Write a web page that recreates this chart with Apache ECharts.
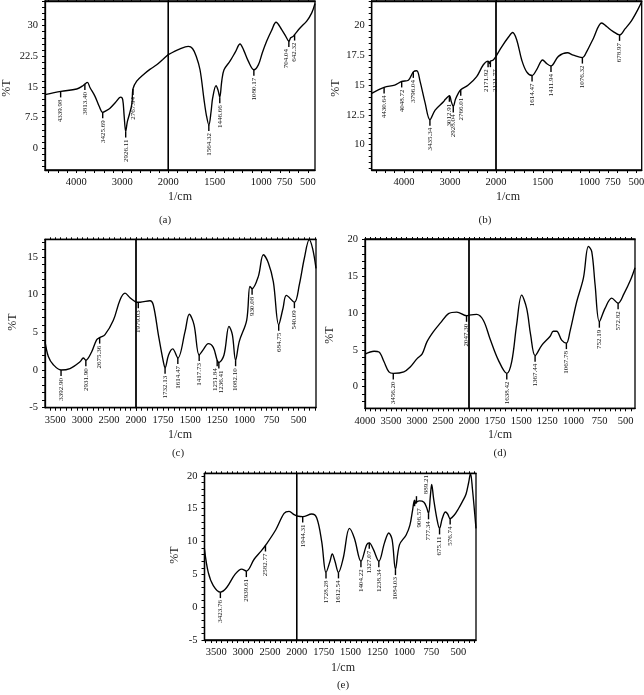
<!DOCTYPE html>
<html>
<head>
<meta charset="utf-8">
<script src="https://cdn.jsdelivr.net/npm/echarts@6/dist/echarts.min.js"></script>
<style>
  html, body { margin: 0; background: #fff; }
  #main { width: 644px; height: 695px; }
</style>
</head>
<body>
<div id="main"></div>
<script>
// ---- spectrum (a)
const waveA = [4680, 4333, 3991, 3870, 3813, 3760, 3700, 3593, 3500, 3426, 3350, 3267, 3150, 3035, 2991, 2960, 2926, 2890, 2848, 2790, 2768, 2687, 2543, 2400, 2252, 2120, 2000, 1874, 1785, 1740, 1700, 1659, 1616, 1590, 1564, 1540, 1523, 1487, 1465, 1447, 1425, 1401, 1337, 1280, 1229, 1190, 1140, 1080, 1032, 990, 942, 890, 842, 781, 740, 704, 684, 660, 642, 584, 512, 458, 423]
const transA = [13.1, 13.9, 14.5, 15.2, 15.7, 16.1, 14.8, 12.7, 10.2, 8.8, 9.2, 9.8, 11.2, 12.5, 11.9, 8.0, 4.1, 6.5, 8.2, 11.0, 14.5, 16.4, 18.0, 19.3, 20.4, 21.7, 22.9, 24.3, 24.9, 24.4, 22.5, 19.2, 11.9, 8.0, 5.7, 9.0, 12.3, 15.3, 14.2, 12.5, 16.5, 19.2, 21.3, 23.5, 25.5, 24.0, 21.3, 19.2, 20.4, 23.3, 26.2, 28.8, 30.8, 29.0, 27.5, 26.2, 27.0, 27.3, 27.8, 29.4, 31.1, 33.1, 35.4]
const peakWaveA = [4339.98, 3813.40, 3425.69, 2926.11, 2767.94, 1564.32, 1446.66, 1080.17, 704.04, 642.32]
const peakTransA = [13.9, 15.7, 8.8, 4.1, 14.5, 5.7, 12.5, 19.2, 26.2, 27.8]

// ---- spectrum (b)
const waveB = [4700, 4430, 4200, 4048, 3903, 3796, 3721, 3649, 3540, 3435, 3322, 3141, 3100, 3012, 2970, 2928, 2880, 2820, 2766, 2602, 2420, 2275, 2172, 2140, 2122, 2060, 2000, 1939, 1868, 1822, 1779, 1725, 1672, 1614, 1565, 1501, 1458, 1412, 1333, 1237, 1173, 1076, 1030, 959, 870, 817, 750, 679, 621, 550, 478, 442]
const transB = [14.3, 14.8, 15.0, 15.3, 15.4, 16.1, 16.2, 15.3, 13.5, 12.1, 12.9, 13.6, 13.8, 14.1, 13.6, 13.2, 13.8, 14.3, 14.6, 15.0, 15.7, 16.7, 17.0, 16.8, 17.0, 17.1, 17.4, 18.2, 19.0, 19.4, 18.8, 17.1, 16.1, 15.8, 16.3, 17.1, 16.8, 16.6, 17.4, 17.7, 17.5, 17.3, 17.8, 18.9, 20.2, 19.9, 19.5, 19.2, 19.7, 20.4, 21.4, 22.0]
const peakWaveB = [4430.64, 4048.72, 3796.04, 3435.34, 3012.91, 2928.04, 2766.01, 2171.92, 2121.77, 1614.47, 1411.94, 1076.32, 678.97]
const peakTransB = [14.8, 15.3, 16.1, 12.1, 14.1, 13.2, 14.6, 17.0, 17.0, 15.8, 16.6, 17.3, 19.2]

// ---- spectrum (c)
const waveC = [3691, 3629, 3536, 3393, 3227, 3041, 2979, 2932, 2825, 2732, 2675, 2576, 2421, 2297, 2204, 2112, 2000, 1963, 1871, 1840, 1794, 1748, 1732, 1700, 1662, 1614, 1548, 1509, 1465, 1418, 1380, 1334, 1288, 1252, 1236, 1189, 1143, 1112, 1082, 1048, 980, 950, 930, 873, 826, 780, 734, 685, 645, 614, 540, 495, 449, 403, 372, 341]
const transC = [3.8, 1.8, 0.7, 0.0, 0.2, 1.1, 1.6, 1.3, 2.4, 4.0, 4.3, 4.7, 6.6, 9.3, 10.2, 9.6, 9.0, 9.0, 9.2, 8.6, 4.7, 1.1, 0.3, 2.0, 2.8, 1.6, 5.1, 7.4, 6.0, 2.0, 2.7, 3.5, 3.0, 1.3, 1.0, 2.0, 5.8, 4.7, 1.3, 3.8, 6.6, 11.1, 10.8, 12.4, 15.3, 14.2, 11.7, 6.0, 8.2, 9.9, 9.0, 11.3, 14.8, 17.3, 16.1, 13.5]
const peakWaveC = [3392.90, 2931.90, 2675.36, 1979.03, 1732.13, 1614.47, 1417.73, 1251.84, 1236.41, 1082.10, 930.08, 684.75, 540.09]
const peakTransC = [0.0, 1.3, 4.3, 9.0, 0.3, 1.6, 2.0, 1.3, 1.0, 1.3, 10.8, 6.0, 9.0]

// ---- spectrum (d)
const waveD = [4000, 3826, 3731, 3636, 3540, 3456, 3253, 3126, 2998, 2903, 2807, 2680, 2553, 2394, 2235, 2047, 2000, 1927, 1863, 1799, 1719, 1638, 1591, 1544, 1496, 1448, 1410, 1367, 1304, 1225, 1193, 1161, 1113, 1068, 1033, 969, 905, 857, 825, 793, 752, 698, 634, 573, 516, 452, 411]
const transD = [4.4, 4.8, 4.7, 3.4, 2.0, 1.8, 2.0, 2.7, 3.8, 4.4, 6.1, 7.5, 8.6, 9.9, 10.1, 9.6, 9.7, 9.8, 9.0, 6.5, 3.6, 1.8, 3.4, 8.4, 12.4, 10.6, 7.0, 4.2, 5.6, 6.8, 7.5, 7.5, 6.3, 5.9, 7.5, 11.5, 14.7, 19.0, 18.3, 13.8, 8.8, 10.6, 12.0, 11.3, 12.6, 14.5, 16.1]
const peakWaveD = [3456.20, 2047.30, 1638.42, 1367.44, 1067.78, 752.19, 572.82]
const peakTransD = [1.8, 9.6, 1.8, 4.2, 5.9, 8.8, 11.3]

// ---- spectrum (e)
const waveE = [3720, 3650, 3556, 3424, 3306, 3151, 3026, 2940, 2794, 2669, 2583, 2390, 2235, 2142, 2049, 2000, 1944, 1861, 1814, 1768, 1728, 1691, 1670, 1645, 1613, 1568, 1511, 1465, 1404, 1351, 1327, 1289, 1238, 1186, 1146, 1115, 1084, 1047, 985, 950, 925, 907, 895, 889, 860, 820, 795, 777, 760, 748, 730, 700, 675, 650, 620, 600, 577, 540, 500, 460, 430, 405, 388, 370, 337]
const transE = [8.8, 5.3, 3.3, 2.3, 3.0, 5.0, 5.8, 5.5, 7.3, 8.5, 9.4, 11.8, 14.3, 14.6, 14.1, 13.9, 13.8, 14.2, 13.6, 10.0, 5.3, 7.0, 8.1, 7.0, 5.3, 7.5, 12.0, 10.5, 7.0, 9.5, 9.8, 8.8, 7.0, 9.8, 11.3, 10.3, 5.8, 9.5, 11.0, 12.5, 14.8, 16.3, 15.8, 16.0, 16.2, 16.0, 15.2, 14.3, 17.0, 18.7, 16.5, 13.5, 12.0, 13.5, 14.5, 14.2, 13.5, 14.0, 15.0, 16.2, 17.2, 19.0, 20.4, 18.0, 12.0]
const peakWaveE = [3423.76, 2939.61, 2582.77, 1944.31, 1728.28, 1612.54, 1404.22, 1327.07, 1238.34, 1084.03, 906.57, 889.21, 777.34, 675.11, 576.74]
const peakTransE = [2.3, 5.5, 9.4, 13.8, 5.3, 5.3, 7.0, 9.8, 7.0, 5.8, 16.3, 16.0, 14.3, 12.0, 13.5]

const FONT = "'Liberation Serif', 'DejaVu Serif', serif"

function range(a, b, step) {
  const out = []
  for (let v = a; v <= b + 1e-9; v += step) out.push(Math.round(v * 1000) / 1000)
  return out
}

// layout of each panel (pixels); nudge = sideways shift of crowded peak labels,
// up = labels written above their marker instead of below
const panels = [
  {
    tag: '(a)', wave: waveA, trans: transA, pw: peakWaveA, pt: peakTransA,
    box: [45, 1, 315, 170], split: 168.3, xMax: 4680, xMin: 423, y: [-5.3, 36],
    yLabels: [0, 7.5, 15, 22.5, 30], yTicks: range(-4.5, 36, 1.5),
    leftLabels: [3000, 4000], leftTicks: range(2000, 4600, 200),
    rightLabels: [2000, 1500, 1000, 750, 500], rightTicks: range(500, 2000, 100),
    yName: [7, 88], xName: [180, 197], cap: [165, 220], nudge: { '704.04': -2.5 }, up: [],
  },
  {
    tag: '(b)', wave: waveB, trans: transB, pw: peakWaveB, pt: peakTransB,
    box: [371.7, 1, 641.7, 170], split: 496, xMax: 4700, xMin: 442, y: [7.88, 22.04],
    yLabels: [10, 12.5, 15, 17.5, 20], yTicks: range(8, 22, 0.5),
    leftLabels: [3000, 4000], leftTicks: range(2000, 4600, 200),
    rightLabels: [2000, 1500, 1000, 750, 500], rightTicks: range(500, 2000, 100),
    yName: [336, 88], xName: [508, 197], cap: [485, 220], nudge: { '2171.92': -1.5, '2121.77': 5 }, up: [],
  },
  {
    tag: '(c)', wave: waveC, trans: transC, pw: peakWaveC, pt: peakTransC,
    box: [45, 239.3, 316, 407.7], split: 136, xMax: 3691, xMin: 341, y: [-5, 17.35],
    yLabels: [-5, 0, 5, 10, 15], yTicks: range(-5, 17, 1),
    leftLabels: [2500, 3000, 3500], leftTicks: range(2000, 3600, 100),
    rightLabels: [2000, 1750, 1500, 1250, 1000, 750, 500], rightTicks: range(350, 2000, 50),
    yName: [13, 322], xName: [180, 435], cap: [178, 453], nudge: { '1251.84': -2.5, '1236.41': 2.5 }, up: [],
  },
  {
    tag: '(d)', wave: waveD, trans: transD, pw: peakWaveD, pt: peakTransD,
    box: [365, 239, 635, 408.3], split: 469, xMax: 4000, xMin: 411, y: [-2.93, 20],
    yLabels: [0, 5, 10, 15, 20], yTicks: range(-2, 20, 1),
    leftLabels: [2500, 3000, 3500, 4000], leftTicks: range(2000, 4000, 100),
    rightLabels: [2000, 1750, 1500, 1250, 1000, 750, 500], rightTicks: range(450, 2000, 50),
    yName: [330, 335], xName: [500, 435], cap: [500, 453], nudge: {}, up: [],
  },
  {
    tag: '(e)', wave: waveE, trans: transE, pw: peakWaveE, pt: peakTransE,
    box: [204.5, 473.3, 476, 640], split: 296.7, xMax: 3720, xMin: 337, y: [-5, 20.4],
    yLabels: [-5, 0, 5, 10, 15, 20], yTicks: range(-5, 20, 1),
    leftLabels: [2500, 3000, 3500], leftTicks: range(2000, 3700, 100),
    rightLabels: [2000, 1750, 1500, 1250, 1000, 750, 500], rightTicks: range(350, 2000, 50),
    yName: [175, 555], xName: [343, 668], cap: [343, 685], nudge: { '906.57': 5, '889.21': 9.5 }, up: ['889.21'],
  },
]

const grids = [], xAxes = [], yAxes = [], series = [], graphics = []
const plain = (v) => String(v)

panels.forEach((p) => {
  const [x0, y0, x1, y1] = p.box
  ;[true, false].forEach((isLeft) => {
    const gi = grids.length
    grids.push({
      left: isLeft ? x0 : p.split, top: y0,
      width: isLeft ? p.split - x0 : x1 - p.split, height: y1 - y0,
      show: true, borderColor: '#000', borderWidth: 1.3,
      containLabel: false, outerBoundsMode: 'none',
    })
    const common = {
      gridIndex: gi, type: 'value', inverse: true,
      min: isLeft ? 2000 : p.xMin, max: isLeft ? p.xMax : 2000,
      splitLine: { show: false },
      axisLine: { show: true, onZero: false, lineStyle: { color: '#000', width: 1.3 } },
    }
    // bottom axis with labels
    xAxes.push(Object.assign({}, common, {
      position: 'bottom',
      axisTick: { show: true, customValues: isLeft ? p.leftTicks : p.rightTicks, length: 3, lineStyle: { color: '#000' } },
      axisLabel: { customValues: isLeft ? p.leftLabels : p.rightLabels, formatter: plain, margin: 7, fontSize: 10.5, color: '#111', fontFamily: FONT },
    }))
    // top border ticks
    xAxes.push(Object.assign({}, common, {
      position: 'top',
      axisTick: { show: true, customValues: isLeft ? p.leftTicks : p.rightTicks, length: 2, lineStyle: { color: '#000' } },
      axisLabel: { show: false },
    }))
    yAxes.push({
      gridIndex: gi, type: 'value', min: p.y[0], max: p.y[1], show: isLeft,
      splitLine: { show: false },
      axisLine: { show: true, onZero: false, lineStyle: { color: '#000', width: 1.3 } },
      axisTick: { show: true, customValues: p.yTicks, length: 3, lineStyle: { color: '#000' } },
      axisLabel: { customValues: p.yLabels, formatter: plain, margin: 7, fontSize: 10.5, color: '#111', fontFamily: FONT },
    })

    const line = []
    p.wave.forEach((w, i) => {
      if (isLeft ? w >= 2000 : w <= 2000) line.push([w, p.trans[i]])
    })
    series.push({
      type: 'line', xAxisIndex: gi * 2, yAxisIndex: gi, data: line,
      showSymbol: false, smooth: 0.35, silent: true,
      lineStyle: { color: '#000', width: 1.35 },
    })

    // peak markers + rotated wavenumber labels
    const marks = []
    p.pw.forEach((w, i) => {
      if (isLeft ? w >= 2000 : w < 2000) marks.push([w, p.pt[i]])
    })
    series.push({
      type: 'custom', xAxisIndex: gi * 2, yAxisIndex: gi, data: marks, silent: true,
      renderItem: (params, api) => {
        const w = api.value(0)
        const pt = api.coord([w, api.value(1)])
        const txt = w.toFixed(2)
        const dx = p.nudge[txt] || 0
        const up = p.up.indexOf(txt) >= 0
        return {
          type: 'group',
          children: [
            { type: 'rect', shape: { x: pt[0] - 0.7, y: up ? pt[1] - 6 : pt[1], width: 1.4, height: 6 }, style: { fill: '#000' } },
            {
              type: 'text', x: pt[0] + dx, y: up ? pt[1] - 8 : pt[1] + 8, rotation: Math.PI / 2,
              style: { text: txt, fontSize: 7, fontFamily: FONT, fill: '#111', align: up ? 'left' : 'right', verticalAlign: 'middle' },
            },
          ],
        }
      },
    })
  })

  graphics.push({
    type: 'text', x: p.yName[0], y: p.yName[1], rotation: Math.PI / 2,
    style: { text: '%T', fontSize: 12, fontFamily: FONT, fill: '#222', align: 'center', verticalAlign: 'middle' },
  })
  graphics.push({
    type: 'text', x: p.xName[0], y: p.xName[1],
    style: { text: '1/cm', fontSize: 12, fontFamily: FONT, fill: '#222', align: 'center', verticalAlign: 'middle' },
  })
  graphics.push({
    type: 'text', x: p.cap[0], y: p.cap[1],
    style: { text: p.tag, fontSize: 11, fontFamily: FONT, fill: '#222', align: 'center', verticalAlign: 'middle' },
  })
})

const chart = echarts.init(document.getElementById('main'), null, { renderer: 'canvas' })
chart.setOption({
  backgroundColor: '#fff',
  animation: false,
  grid: grids,
  xAxis: xAxes,
  yAxis: yAxes,
  series: series,
  graphic: graphics,
})
</script>
</body>
</html>
